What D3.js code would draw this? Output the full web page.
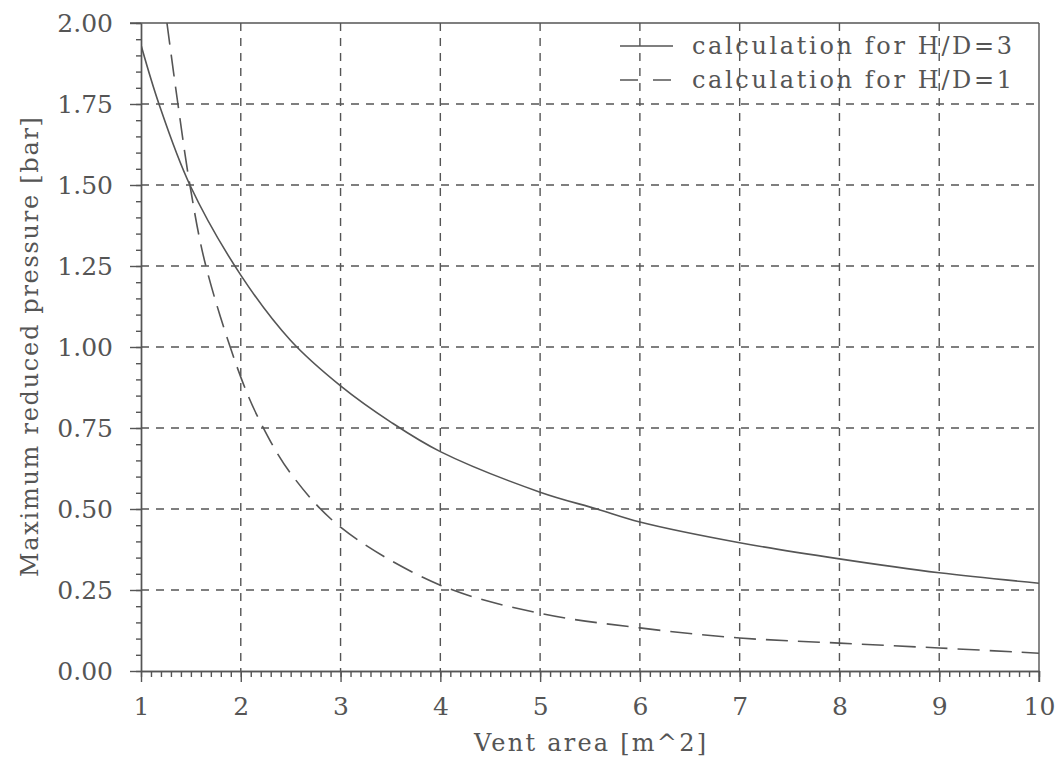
<!DOCTYPE html>
<html>
<head>
<meta charset="utf-8">
<script src="https://cdn.jsdelivr.net/npm/d3@7"></script>
<style>
  body { margin: 0; background: #fff; }
  svg { display: block; }
  text { font-family: "DejaVu Serif", serif; fill: #555; }
</style>
</head>
<body>
<div id="chart"></div>
<script>
// vent area [m^2] and max reduced pressure [bar]
const areaHD3 = [1, 1.18, 1.49, 2, 2.5, 3, 3.5, 4, 5, 5.57, 6, 7, 8, 9, 10];
const pressHD3 = [1.932, 1.75, 1.50, 1.222, 1.02, 0.880, 0.769, 0.677, 0.552, 0.50, 0.460, 0.396, 0.346, 0.303, 0.271];

const areaHD1 = [1.26, 1.37, 1.49, 1.65, 2, 2.21, 2.5, 3, 4, 5, 6, 7, 8, 9, 10];
const pressHD1 = [2.0, 1.75, 1.50, 1.25, 0.907, 0.76, 0.61, 0.444, 0.265, 0.178, 0.133, 0.102, 0.086, 0.071, 0.055];

const xTicks = [1, 2, 3, 4, 5, 6, 7, 8, 9, 10];
const yTicks = [0, 0.25, 0.5, 0.75, 1.0, 1.25, 1.5, 1.75, 2.0];
const legendLabels = ["calculation for H/D=3", "calculation for H/D=1"];

const W = 1057, H = 765;
const margin = { top: 23, right: 18, bottom: 94, left: 141 };
const width = W - margin.left - margin.right;
const height = H - margin.top - margin.bottom;
const ink = '#555';

const x = d3.scaleLinear().domain([1, 10]).range([0, width]);
const y = d3.scaleLinear().domain([0, 2]).range([height, 0]);

const svg = d3.select('#chart').append('svg')
  .attr('width', W)
  .attr('height', H);

const g = svg.append('g')
  .attr('transform', 'translate(' + margin.left + ',' + margin.top + ')');

g.append('clipPath').attr('id', 'plot-clip')
  .append('rect').attr('width', width).attr('height', height);

// grid
g.selectAll('.hgrid')
  .data(yTicks.filter(d => d > 0 && d < 2))
  .enter().append('line')
  .attr('x1', 0).attr('x2', width)
  .attr('y1', d => y(d)).attr('y2', d => y(d))
  .attr('stroke', ink).attr('stroke-width', 1.4)
  .attr('stroke-dasharray', '8,7');

g.selectAll('.vgrid')
  .data(xTicks.filter(d => d > 1 && d < 10))
  .enter().append('line')
  .attr('x1', d => x(d)).attr('x2', d => x(d))
  .attr('y1', 0).attr('y2', height)
  .attr('stroke', ink).attr('stroke-width', 1.4)
  .attr('stroke-dasharray', '8,7');

// minor ticks
const yMinor = d3.axisLeft(y).ticks(40).tickSize(5).tickFormat('').tickSizeOuter(0);
g.append('g').call(yMinor);

const xMinor = d3.axisBottom(x).ticks(90).tickSize(6).tickFormat('').tickSizeOuter(0);
g.append('g').attr('transform', 'translate(0,' + height + ')').call(xMinor);

// major axes
const yAxis = d3.axisLeft(y).tickValues(yTicks).tickSize(11).tickSizeOuter(0)
  .tickPadding(17).tickFormat(d3.format('.2f'));
const yG = g.append('g').call(yAxis);

const xAxis = d3.axisBottom(x).tickValues(xTicks).tickSize(11).tickSizeOuter(0)
  .tickPadding(15).tickFormat(d3.format('d'));
const xG = g.append('g').attr('transform', 'translate(0,' + height + ')').call(xAxis);

g.selectAll('.domain, .tick line').attr('stroke', ink).attr('stroke-width', 1.4);
yG.selectAll('text').style('font-size', '25px').attr('fill', '#555');
xG.selectAll('text').style('font-size', '25px').attr('fill', '#555');

// top and right frame
g.append('line').attr('x1', -11).attr('x2', width).attr('y1', 0).attr('y2', 0)
  .attr('stroke', ink).attr('stroke-width', 1.4);
g.append('line').attr('x1', width).attr('x2', width).attr('y1', 0).attr('y2', height + 11)
  .attr('stroke', ink).attr('stroke-width', 1.4);

// curves
const line = d3.line()
  .x(d => x(d[0]))
  .y(d => y(d[1]))
  .curve(d3.curveCatmullRom.alpha(0.5));

g.append('path')
  .datum(areaHD3.map((a, i) => [a, pressHD3[i]]))
  .attr('fill', 'none')
  .attr('stroke', ink)
  .attr('stroke-width', 1.6)
  .attr('clip-path', 'url(#plot-clip)')
  .attr('d', line);

g.append('path')
  .datum(areaHD1.map((a, i) => [a, pressHD1[i]]))
  .attr('fill', 'none')
  .attr('stroke', ink)
  .attr('stroke-width', 1.6)
  .attr('stroke-dasharray', '22,10')
  .attr('clip-path', 'url(#plot-clip)')
  .attr('d', line);

// legend (screen coordinates)
const legend = svg.append('g');
const rows = [{ y: 46, dash: null }, { y: 80, dash: '18,15' }];
rows.forEach((r, i) => {
  legend.append('line')
    .attr('x1', 620).attr('x2', 673).attr('y1', r.y).attr('y2', r.y)
    .attr('stroke', ink).attr('stroke-width', 1.6)
    .attr('stroke-dasharray', r.dash);
  legend.append('text')
    .attr('x', 692).attr('y', r.y + 8)
    .attr('textLength', 320).attr('lengthAdjust', 'spacing')
    .style('font-size', '24px')
    .text(legendLabels[i]);
});

// axis titles
svg.append('text')
  .attr('x', margin.left + width / 2).attr('y', 751)
  .attr('text-anchor', 'middle')
  .attr('textLength', 232).attr('lengthAdjust', 'spacing')
  .style('font-size', '24px')
  .text('Vent area [m^2]');

svg.append('text')
  .attr('transform', 'translate(38,347) rotate(-90)')
  .attr('text-anchor', 'middle')
  .attr('textLength', 460).attr('lengthAdjust', 'spacing')
  .style('font-size', '24px')
  .text('Maximum reduced pressure [bar]');
</script>
</body>
</html>
